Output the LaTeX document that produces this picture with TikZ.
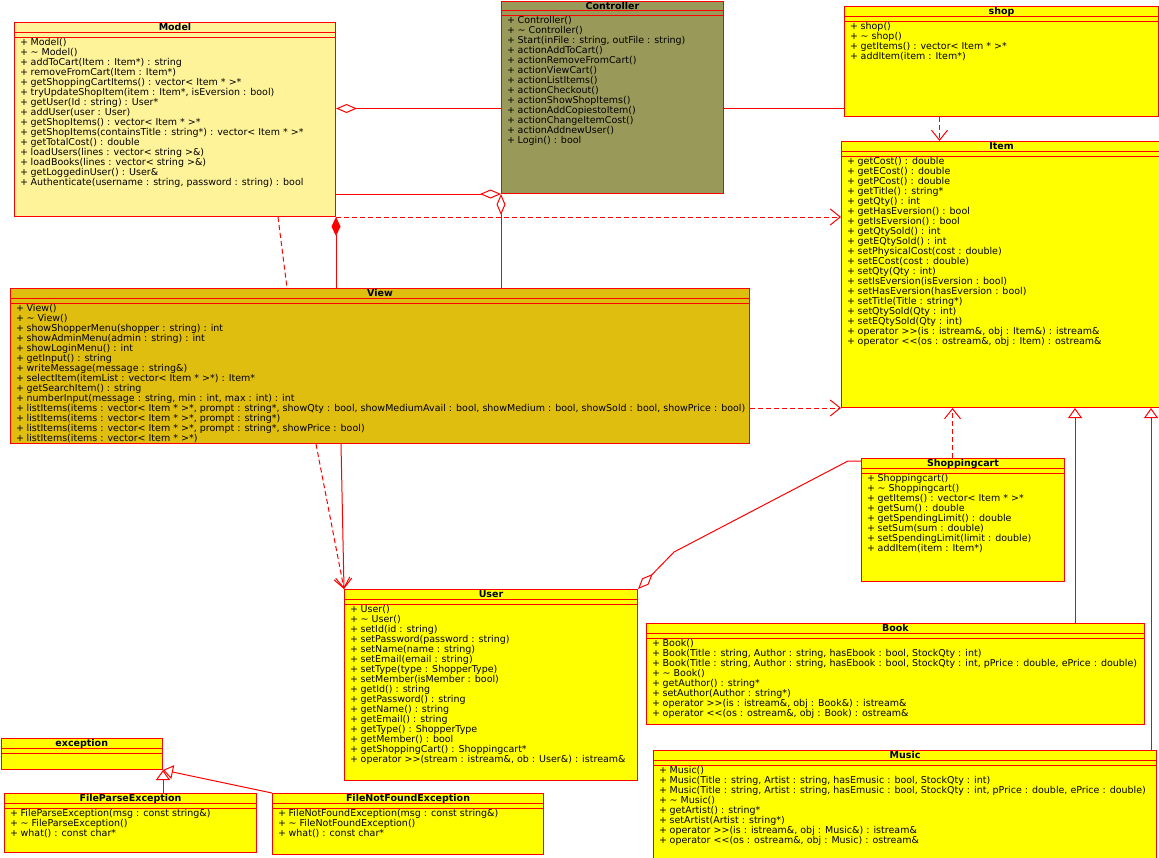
\documentclass[tikz,border=0pt]{standalone}
\usepackage{fontspec}
\setmainfont{DejaVu Sans}[Ligatures=TeXOff]
\usetikzlibrary{arrows.meta}

\definecolor{umlred}{RGB}{255,0,0}
\definecolor{modelfill}{RGB}{255,243,153}
\definecolor{ctrlfill}{RGB}{153,153,90}
\definecolor{viewfill}{RGB}{224,190,16}
\definecolor{classfill}{RGB}{255,255,0}

% fixed 10pt line pitch for the operation lists
\newcommand\opfont{\fontsize{9.5}{10}\selectfont\lineskiplimit=-20pt\lineskip=0pt}

\tikzset{
  classbox/.style={draw=umlred, line width=1pt, rectangle, inner sep=0pt},
  classtitle/.style={font=\fontsize{9.5}{10}\selectfont\bfseries, inner sep=0pt, anchor=base},
  classops/.style={font=\opfont, inner sep=0pt, align=left, anchor=north west},
  link/.style={draw=umlred, line width=1pt},
  aggr/.style={link, {Diamond[open, fill=white, length=21pt, width=9pt]}-},
  compo/.style={link, {Diamond[fill=umlred, length=19pt, width=9pt]}-},
  dep/.style={link, dash pattern=on 5pt off 3pt, -{Straight Barb[length=10pt, width=16pt]}},
  trace/.style={link, dash pattern=on 5pt off 3pt},
  nav/.style={link, -{Straight Barb[length=10pt, width=16pt]}},
  gen/.style={link, -{Triangle[open, fill=white, length=10pt, width=14pt]}},
}

% one operation line: "+" column, then the signature
\newcommand\umlop[1]{\makebox[10.5pt][l]{+}#1\strut}
% class box: name, left, top, width, height, fill, title, operations
\newcommand\umlclass[8]{%
  \node[classbox, fill=#6, minimum width=#4pt, minimum height=#5pt, anchor=north west] (#1) at (#2,#3) {};
  \draw[link] ([yshift=-10pt]#1.north west) -- ([yshift=-10pt]#1.north east)
              ([yshift=-15pt]#1.north west) -- ([yshift=-15pt]#1.north east);
  \node[classtitle] (#1-title) at ([yshift=-8.5pt]#1.north) {#7};
  \node[classops] (#1-ops) at ([xshift=6pt,yshift=-16pt]#1.north west) {#8};
}

\begin{document}
\begin{tikzpicture}[x=1pt, y=-1pt]
\fill[white] (0,0) rectangle (1159,857);
\useasboundingbox (0,0) rectangle (1159,857);

\umlclass{model}{14}{22}{321}{194}{modelfill}{Model}{%
\umlop{Model()}\\
\umlop{\textasciitilde\ Model()}\\
\umlop{addToCart(Item : Item*) : string}\\
\umlop{removeFromCart(Item : Item*)}\\
\umlop{getShoppingCartItems() : vector< Item * >*}\\
\umlop{tryUpdateShopItem(item : Item*, isEversion : bool)}\\
\umlop{getUser(Id : string) : User*}\\
\umlop{addUser(user : User)}\\
\umlop{getShopItems() : vector< Item * >*}\\
\umlop{getShopItems(containsTitle : string*) : vector< Item * >*}\\
\umlop{getTotalCost() : double}\\
\umlop{loadUsers(lines : vector< string >\&)}\\
\umlop{loadBooks(lines : vector< string >\&)}\\
\umlop{getLoggedinUser() : User\&}\\
\umlop{Authenticate(username : string, password : string) : bool}}

\umlclass{ctrl}{501}{0.5}{222}{192.5}{ctrlfill}{Controller}{%
\umlop{Controller()}\\
\umlop{\textasciitilde\ Controller()}\\
\umlop{Start(inFile : string, outFile : string)}\\
\umlop{actionAddToCart()}\\
\umlop{actionRemoveFromCart()}\\
\umlop{actionViewCart()}\\
\umlop{actionListItems()}\\
\umlop{actionCheckout()}\\
\umlop{actionShowShopItems()}\\
\umlop{actionAddCopiestoItem()}\\
\umlop{actionChangeItemCost()}\\
\umlop{actionAddnewUser()}\\
\umlop{Login() : bool}}

\umlclass{shop}{844}{6}{314}{110}{classfill}{shop}{%
\umlop{shop()}\\
\umlop{\textasciitilde\ shop()}\\
\umlop{getItems() : vector< Item * >*}\\
\umlop{addItem(item : Item*)}}

\umlclass{item}{841}{141}{320}{266}{classfill}{Item}{%
\umlop{getCost() : double}\\
\umlop{getECost() : double}\\
\umlop{getPCost() : double}\\
\umlop{getTitle() : string*}\\
\umlop{getQty() : int}\\
\umlop{getHasEversion() : bool}\\
\umlop{getIsEversion() : bool}\\
\umlop{getQtySold() : int}\\
\umlop{getEQtySold() : int}\\
\umlop{setPhysicalCost(cost : double)}\\
\umlop{setECost(cost : double)}\\
\umlop{setQty(Qty : int)}\\
\umlop{setIsEversion(isEversion : bool)}\\
\umlop{setHasEversion(hasEversion : bool)}\\
\umlop{setTitle(Title : string*)}\\
\umlop{setQtySold(Qty : int)}\\
\umlop{setEQtySold(Qty : int)}\\
\umlop{operator >>(is : istream\&, obj : Item\&) : istream\&}\\
\umlop{operator <<(os : ostream\&, obj : Item) : ostream\&}}

\umlclass{view}{10}{288}{739}{155}{viewfill}{View}{%
\umlop{View()}\\
\umlop{\textasciitilde\ View()}\\
\umlop{showShopperMenu(shopper : string) : int}\\
\umlop{showAdminMenu(admin : string) : int}\\
\umlop{showLoginMenu() : int}\\
\umlop{getInput() : string}\\
\umlop{writeMessage(message : string\&)}\\
\umlop{selectItem(itemList : vector< Item * >*) : Item*}\\
\umlop{getSearchItem() : string}\\
\umlop{numberInput(message : string, min : int, max : int) : int}\\
\umlop{listItems(items : vector< Item * >*, prompt : string*, showQty : bool, showMediumAvail : bool, showMedium : bool, showSold : bool, showPrice : bool)}\\
\umlop{listItems(items : vector< Item * >*, prompt : string*)}\\
\umlop{listItems(items : vector< Item * >*, prompt : string*, showPrice : bool)}\\
\umlop{listItems(items : vector< Item * >*)}}

\umlclass{user}{344}{589}{293}{191}{classfill}{User}{%
\umlop{User()}\\
\umlop{\textasciitilde\ User()}\\
\umlop{setId(id : string)}\\
\umlop{setPassword(password : string)}\\
\umlop{setName(name : string)}\\
\umlop{setEmail(email : string)}\\
\umlop{setType(type : ShopperType)}\\
\umlop{setMember(isMember : bool)}\\
\umlop{getId() : string}\\
\umlop{getPassword() : string}\\
\umlop{getName() : string}\\
\umlop{getEmail() : string}\\
\umlop{getType() : ShopperType}\\
\umlop{getMember() : bool}\\
\umlop{getShoppingCart() : Shoppingcart*}\\
\umlop{operator >>(stream : istream\&, ob : User\&) : istream\&}}

\umlclass{cart}{861}{458}{203}{123}{classfill}{Shoppingcart}{%
\umlop{Shoppingcart()}\\
\umlop{\textasciitilde\ Shoppingcart()}\\
\umlop{getItems() : vector< Item * >*}\\
\umlop{getSum() : double}\\
\umlop{getSpendingLimit() : double}\\
\umlop{setSum(sum : double)}\\
\umlop{setSpendingLimit(limit : double)}\\
\umlop{addItem(item : Item*)}}

\umlclass{book}{646}{623}{498}{101}{classfill}{Book}{%
\umlop{Book()}\\
\umlop{Book(Title : string, Author : string, hasEbook : bool, StockQty : int)}\\
\umlop{Book(Title : string, Author : string, hasEbook : bool, StockQty : int, pPrice : double, ePrice : double)}\\
\umlop{\textasciitilde\ Book()}\\
\umlop{getAuthor() : string*}\\
\umlop{setAuthor(Author : string*)}\\
\umlop{operator >>(is : istream\&, obj : Book\&) : istream\&}\\
\umlop{operator <<(os : ostream\&, obj : Book) : ostream\&}}

\umlclass{music}{653}{750}{503}{108}{classfill}{Music}{%
\umlop{Music()}\\
\umlop{Music(Title : string, Artist : string, hasEmusic : bool, StockQty : int)}\\
\umlop{Music(Title : string, Artist : string, hasEmusic : bool, StockQty : int, pPrice : double, ePrice : double)}\\
\umlop{\textasciitilde\ Music()}\\
\umlop{getArtist() : string*}\\
\umlop{setArtist(Artist : string*)}\\
\umlop{operator >>(is : istream\&, obj : Music\&) : istream\&}\\
\umlop{operator <<(os : ostream\&, obj : Music) : ostream\&}}

\umlclass{exc}{0.5}{738}{161.5}{31}{classfill}{exception}{}

\umlclass{fpe}{4}{793}{252}{59}{classfill}{FileParseException}{%
\umlop{FileParseException(msg : const string\&)}\\
\umlop{\textasciitilde\ FileParseException()}\\
\umlop{what() : const char*}}

\umlclass{fnfe}{272}{793}{271}{61}{classfill}{FileNotFoundException}{%
\umlop{FileNotFoundException(msg : const string\&)}\\
\umlop{\textasciitilde\ FileNotFoundException()}\\
\umlop{what() : const char*}}

% attachment points on the box edges
\coordinate (m1) at ([yshift=11pt]model.east);
\coordinate (c1) at ([yshift=-11.5pt]ctrl.east);
\coordinate (s1) at ([xshift=-62pt]shop.south);
\coordinate (k1) at ([xshift=-10.5pt]cart.north);
\coordinate (b1) at ([xshift=-70pt]book.north east);
\coordinate (u1) at ([xshift=-6pt]music.north east);

% associations and aggregations
\draw[aggr] (m1) -- (m1 -| ctrl.west);
\draw[link] (c1) -- (c1 -| shop.west);
\draw[aggr] (ctrl.south west) -- (ctrl.south west -| model.east);
\draw[aggr] (ctrl.south west) -- (ctrl.south west |- view.north);
\draw[compo] (model.south east) -- (model.south east |- view.north);
\draw[trace] ([xshift=-58pt]model.south east) -- ([xshift=277pt]view.north west);
\draw[aggr] (user.north east) -- (674,552) -- (848,461) -- ([yshift=-3pt]cart.north west);

% dependencies
\draw[dep] (model.south east) -- (model.south east -| item.west);
\draw[dep] (item.south west -| view.east) -- (item.south west);
\draw[dep] (s1) -- (s1 |- item.north);
\draw[dep] (k1) -- (k1 |- item.south);
\draw[dep] ([xshift=306pt]view.south west) -- (user.north west);
\draw[nav] ([xshift=331pt]view.south west) -- (user.north west);

% generalizations
\draw[gen] (b1) -- (b1 |- item.south);
\draw[gen] (u1) -- (u1 |- item.south);
\draw[gen] (exc.south east |- fpe.north) -- (exc.south east);
\draw[gen] (fnfe.north west) -- (exc.south east);
\end{tikzpicture}
\end{document}
